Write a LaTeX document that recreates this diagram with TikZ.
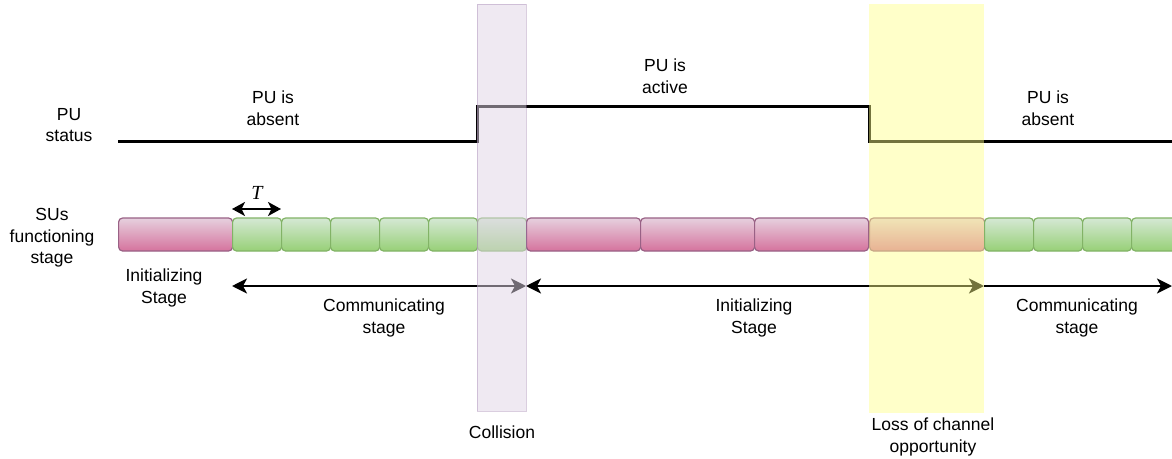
\documentclass[tikz,border=0pt]{standalone}
\usepackage{fontspec}
\setmainfont{Liberation Sans}
\newfontfamily\serifit{Liberation Serif}
\usetikzlibrary{arrows.meta}
\definecolor{pinktop}{HTML}{E6D0DE}
\definecolor{pinkbot}{HTML}{D5739D}
\definecolor{pinkstroke}{HTML}{996185}
\definecolor{greentop}{HTML}{D5E8D4}
\definecolor{greenbot}{HTML}{97D077}
\definecolor{greenstroke}{HTML}{82B366}
\definecolor{purplefill}{HTML}{E1D5E7}
\definecolor{purplestroke}{HTML}{9673A6}
\definecolor{yellowfill}{HTML}{FFFF88}
\begin{document}
\begin{tikzpicture}[x=1pt,y=-1pt,
  lbl/.style={align=center,font=\fontsize{17.5}{21.5}\selectfont,inner sep=0pt},
  cell/.style={rounded corners=4pt,minimum height=33pt,inner sep=0pt,anchor=west,line width=1.2pt},
  pinkbox/.style={cell,draw=pinkstroke,top color=pinktop,bottom color=pinkbot,minimum width=114pt},
  greenbox/.style={cell,draw=greenstroke,top color=greentop,bottom color=greenbot,minimum width=49pt},
  pustatus/.style={line width=3pt},
  stagearrow/.style={line width=2.6pt},
  tip/.tip={Stealth[length=15pt,width=15pt,inset=4pt]},
  overlaypurple/.style={fill=purplefill,fill opacity=0.5,draw=purplestroke,draw opacity=0.35,line width=1pt},
  overlayyellow/.style={fill=yellowfill,fill opacity=0.45,draw=none}
]
\clip (0,0) rectangle (1172,458);
\fill[white] (0,0) rectangle (1172,458);

% PU status line
\coordinate (p0) at (118,141);
\coordinate (p1) at (477,141);
\coordinate (p2) at (477,106);
\coordinate (p3) at (869,106);
\coordinate (p4) at (869,141);
\coordinate (p5) at (1175,141);
\draw[pustatus] (p0) -- (p1) -- (p2) -- (p3) -- (p4) -- (p5);

% SU stage bar
\node[pinkbox] (i1) at (118,234.5) {};
\node[greenbox] (c1) at (232,234.5) {};
\node[greenbox] (c2) at (281,234.5) {};
\node[greenbox] (c3) at (330,234.5) {};
\node[greenbox] (c4) at (379,234.5) {};
\node[greenbox] (c5) at (428,234.5) {};
\node[greenbox] (c6) at (477,234.5) {};
\node[pinkbox] (i2) at (526,234.5) {};
\node[pinkbox] (i3) at (640,234.5) {};
\node[pinkbox] (i4) at (754,234.5) {};
\node[pinkbox,minimum width=115pt] (i5) at (869,234.5) {};
\node[greenbox] (c7) at (984,234.5) {};
\node[greenbox] (c8) at (1033,234.5) {};
\node[greenbox] (c9) at (1082,234.5) {};
\node[greenbox] (c10) at (1131,234.5) {};

% T arrow
\coordinate (t0) at (232,209);
\coordinate (t1) at (281,209);
\draw[line width=2.4pt,{Stealth[length=13pt,width=14pt,inset=3.5pt]}-{Stealth[length=13pt,width=14pt,inset=3.5pt]}] (t0) -- (t1);
\node[inner sep=0pt,font=\serifit\itshape\fontsize{20}{20}\selectfont] (tl) at (257,193) {T};

% stage arrows
\coordinate (a0) at (232,286);
\coordinate (a1) at (526,286);
\coordinate (a2) at (984,286);
\coordinate (a3) at (1172,286);
\draw[stagearrow,tip-tip] (a0) -- (a1);
\draw[stagearrow,tip-tip] (a1) -- (a2);
\draw[stagearrow,-tip] (a2) -- (a3);

% overlays
\draw[overlaypurple] (477,4) rectangle (526,411);
\fill[overlayyellow] (869,4) rectangle (984,413);

% labels
\node[lbl] (lpu) at (69,125) {PU\\status};
\node[lbl] (lsu) at (52,238) {SUs\\functioning\\stage};
\node[lbl] (abs1) at (273,108) {PU is\\absent};
\node[lbl] (act) at (665,76) {PU is\\active};
\node[lbl] (abs2) at (1048,108) {PU is\\absent};
\node[lbl] (ini1) at (164,288) {Initializing\\Stage};
\node[lbl] (com1) at (384,318) {Communicating\\stage};
\node[lbl] (ini2) at (754,318) {Initializing\\Stage};
\node[lbl] (com2) at (1077,318) {Communicating\\stage};
\node[lbl] (lcol) at (502,432) {Collision};
\node[lbl] (lloss) at (933,437) {Loss of channel\\opportunity};
\end{tikzpicture}
\end{document}
